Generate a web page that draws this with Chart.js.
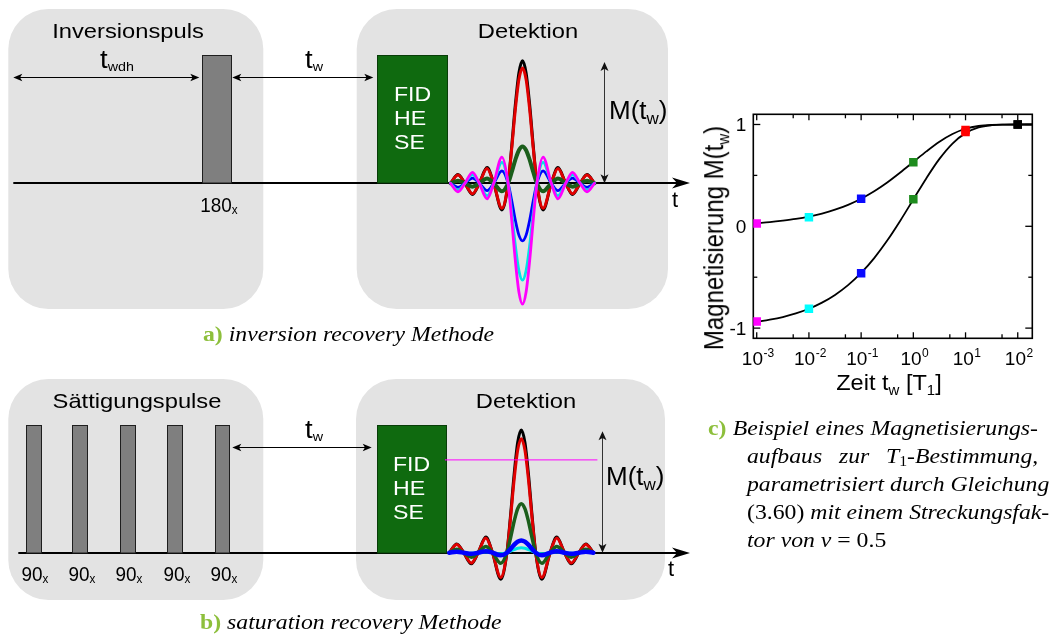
<!DOCTYPE html>
<html><head><meta charset="utf-8">
<script src="https://cdn.jsdelivr.net/npm/chart.js@4.4.0/dist/chart.umd.min.js"></script>
<style>
html,body{margin:0;padding:0;background:#fff;}
body{width:1052px;height:637px;position:relative;overflow:hidden;}
canvas{position:absolute;}
.lbl{position:absolute;white-space:nowrap;line-height:1;color:#000;}
.sans{font-family:"Liberation Sans",Arial,Helvetica,sans-serif;}
.serif{font-family:"Liberation Serif","Times New Roman",serif;}
.sb{position:relative;}
.grn{color:#8dbf3c;font-weight:bold;font-style:normal;}
</style></head>
<body>
<canvas id="chartA" width="700" height="320" style="left:0;top:0"></canvas>
<canvas id="chartB" width="700" height="317" style="left:0;top:320px"></canvas>
<canvas id="chartC" width="362" height="310" style="left:690px;top:90px"></canvas>
<script>
// ================= DATA =================
// --- echo (detected signal) shape, offsets in units of the sinc zero spacing ---
const echoOffsets = [-5,-4.48,-4,-3.47,-3,-2.46,-2,-1.43,-1,-0.75,-0.5,-0.25,0,0.25,0.5,0.75,1,1.43,2,2.46,3,3.47,4,4.48,5];
const echoShape   = [0,0.071,0,-0.091,0,0.128,0,-0.217,0,0.300,0.637,0.900,1,0.900,0.637,0.300,0,-0.217,0,0.128,0,-0.091,0,0.071,0];
// echo series (colour order: black, red, green, blue, cyan, magenta)
const echoNames  = ['t_w = 100','t_w = 10','t_w = 1','t_w = 0.1','t_w = 0.01','t_w = 0.001'];
const irEchoAmps = [1.00, 0.94, 0.30, -0.47, -0.79, -0.985];
const srEchoAmps = [1.00, 0.93, 0.40, 0.10, 0.04];
const srMagentaLevel = 0.757;

// --- pulse sequence timing (time axis in arbitrary units) ---
const irPhases = [[0.83, 26.33], [35.67, 66.8]];
const irPhaseNames = ['Inversionspuls', 'Detektion'];
const irPulses = [[20.17, 23.13]];
const irPulseNames = ['180'];
const irDetect = [37.73, 44.67];
const irIntervals = [[1.33, 19.93], [23.23, 37.33]];

const srPhases = [[0.83, 26.33], [35.6, 66.5]];
const srPhaseNames = ['Sättigungspulse', 'Detektion'];
const srPulses = [[2.6, 4.07], [7.23, 8.73], [12.0, 13.47], [16.73, 18.23], [21.5, 22.93]];
const srPulseNames = ['90', '90', '90', '90', '90'];
const srDetect = [37.67, 44.57];
const srIntervals = [[23.23, 37.17]];

// --- c) magnetisation build-up ---
const curveTimes = [0.001,0.00178,0.00316,0.00562,0.01,0.0178,0.0316,0.0562,0.1,0.178,0.316,0.562,1,1.78,3.16,5.62,10,17.8,31.6,56.2,100,190];
const irCurve = [-0.938,-0.917,-0.891,-0.856,-0.810,-0.750,-0.674,-0.578,-0.458,-0.312,-0.140,0.055,0.264,0.473,0.662,0.813,0.915,0.971,0.993,0.999,1.0,1.0];
const srCurve = [0.031,0.041,0.055,0.072,0.095,0.125,0.163,0.211,0.271,0.344,0.430,0.528,0.632,0.736,0.831,0.907,0.958,0.985,0.996,0.999,1.0,1.0];
const markerTimes = [0.001, 0.01, 0.1, 1, 10, 100];
const irMarkers = [-0.935, -0.81, -0.46, 0.265, 0.925, 1.0];
const srMarkers = [0.028, 0.09, 0.27, 0.63, 0.945, 1.0];
const xMajorTicks = [0.001, 0.01, 0.1, 1, 10, 100];
const xTickExponents = ['-3', '-2', '-1', '0', '1', '2'];
const xMinorTicks = [0.005, 0.05, 0.5, 5, 50];
const yMajorTicks = [-1, 0, 1];
const yTickLabels = ['-1', '0', '1'];
const yMinorTicks = [-0.5, 0.5];

// ================= STYLES =================
const echoColors = ['#000000', '#e00000', '#1b5e1b', '#0000ff', '#00e5e5', '#ff00ff'];
const markerColors = ['#ff00ff', '#00ffff', '#0a0aff', '#1e8c1e', '#ff0000', '#000000'];
const SANS = '"Liberation Sans", Arial, Helvetica, sans-serif';

// ================= HELPERS =================
function rr(ctx, x, y, w, h, r) {
  ctx.beginPath();
  ctx.moveTo(x + r, y);
  ctx.arcTo(x + w, y, x + w, y + h, r);
  ctx.arcTo(x + w, y + h, x, y + h, r);
  ctx.arcTo(x, y + h, x, y, r);
  ctx.arcTo(x, y, x + w, y, r);
  ctx.closePath();
}
function head(ctx, x, y, dx, dy, len, half, notch) {
  const bx = x - dx * len, by = y - dy * len, nx = -dy, ny = dx;
  ctx.beginPath();
  ctx.moveTo(x, y);
  ctx.lineTo(bx + nx * half, by + ny * half);
  ctx.lineTo(x - dx * len * notch, y - dy * len * notch);
  ctx.lineTo(bx - nx * half, by - ny * half);
  ctx.closePath();
  ctx.fill();
}

const diagramPlugin = {
  id: 'diagram',
  beforeDatasetsDraw(chart, args, o) {
    const s = o.spec; if (!s) return;
    const ctx = chart.ctx, X = chart.scales.x, Y = chart.scales.y;
    const px = v => X.getPixelForValue(v), py = v => Y.getPixelForValue(v);
    ctx.save();
    // grey phase panels
    ctx.fillStyle = '#e3e3e3';
    s.phases.forEach(p => {
      const x0 = px(p[0]), x1 = px(p[1]), y0 = py(s.panelTop), y1 = py(s.panelBottom);
      rr(ctx, x0, y0, x1 - x0, y1 - y0, 40); ctx.fill();
    });
    // time axis
    const ya = Math.round(py(0));
    const a0 = px(s.axis[0]), a1 = px(s.axis[1]);
    ctx.strokeStyle = '#000'; ctx.fillStyle = '#000'; ctx.lineWidth = 2;
    ctx.beginPath(); ctx.moveTo(a0, ya); ctx.lineTo(a1 - 12, ya); ctx.stroke();
    head(ctx, a1, ya, 1, 0, 18, 5.5, 0.72);
    // pulses
    ctx.lineWidth = 1; ctx.strokeStyle = '#1e1e1e'; ctx.fillStyle = '#7f7f7f';
    s.pulses.forEach(p => {
      const x0 = Math.round(px(p[0])) + 0.5, x1 = Math.round(px(p[1])) + 0.5, yt = Math.round(py(s.pulseHeight)) + 0.5;
      ctx.fillRect(x0, yt, x1 - x0, ya - yt);
      ctx.strokeRect(x0, yt, x1 - x0, ya - yt);
    });
    // detection block
    {
      const x0 = Math.round(px(s.detect[0])) + 0.5, x1 = Math.round(px(s.detect[1])) + 0.5, yt = Math.round(py(s.pulseHeight)) + 0.5;
      ctx.fillStyle = '#0f6a0f'; ctx.strokeStyle = '#083d08';
      ctx.fillRect(x0, yt, x1 - x0, ya - yt);
      ctx.strokeRect(x0, yt, x1 - x0, ya - yt);
    }
    ctx.restore();
  },
  afterDatasetsDraw(chart, args, o) {
    const s = o.spec; if (!s) return;
    const ctx = chart.ctx, X = chart.scales.x, Y = chart.scales.y;
    const px = v => X.getPixelForValue(v), py = v => Y.getPixelForValue(v);
    ctx.save();
    // interval arrows (t_wdh, t_w)
    ctx.strokeStyle = '#000'; ctx.fillStyle = '#000'; ctx.lineWidth = 1;
    const yl = Math.round(py(s.intervalLevel)) + 0.5;
    s.intervals.forEach(iv => {
      const x0 = px(iv[0]), x1 = px(iv[1]);
      ctx.beginPath(); ctx.moveTo(x0 + 5, yl); ctx.lineTo(x1 - 5, yl); ctx.stroke();
      head(ctx, x0, yl, -1, 0, 9, 3.8, 0.75);
      head(ctx, x1, yl, 1, 0, 9, 3.8, 0.75);
    });
    // M(t_w) arrow
    ctx.strokeStyle = '#333'; ctx.fillStyle = '#111';
    const xm = Math.round(px(s.mArrow.x)) + 0.5, yb = py(0), yt = py(s.mArrow.top);
    ctx.beginPath(); ctx.moveTo(xm, yt + 5); ctx.lineTo(xm, yb - 5); ctx.stroke();
    head(ctx, xm, yt, 0, -1, 9, 4, 0.75);
    head(ctx, xm, yb, 0, 1, 9, 4, 0.75);
    ctx.restore();
  }
};

function echo(center, spacing, amp) {
  return echoOffsets.map((u, i) => ({ x: center + u * spacing, y: amp * echoShape[i] }));
}
function waveDS(data, color, width) {
  return { data, borderColor: color, borderWidth: width, pointRadius: 0, fill: false,
           cubicInterpolationMode: 'monotone', borderJoinStyle: 'round', borderCapStyle: 'round' };
}
function diagramChart(id, spec, datasets) {
  const yMax = spec.baselinePx / spec.unitPx;
  const yMin = -(spec.heightPx - spec.baselinePx) / spec.unitPx;
  return new Chart(document.getElementById(id), {
    type: 'line',
    data: { datasets },
    options: {
      responsive: false, animation: false, devicePixelRatio: 1,
      layout: { padding: 0 },
      plugins: { legend: { display: false }, tooltip: { enabled: false }, diagram: { spec } },
      scales: {
        x: { type: 'linear', display: false, min: 0, max: 70 },
        y: { type: 'linear', display: false, min: yMin, max: yMax }
      }
    },
    plugins: [diagramPlugin]
  });
}

// ================= a) inversion recovery =================
const specA = {
  baselinePx: 183.3, unitPx: 122.6, heightPx: 320,
  phases: irPhases, panelTop: 1.422, panelBottom: -1.025,
  axis: [1.33, 69.0], pulses: irPulses, pulseHeight: 1.047, detect: irDetect,
  intervals: irIntervals, intervalLevel: 0.87, mArrow: { x: 60.4, top: 0.99 }
};
const cA = 52.25, spA = 1.44;
const widthsA = [3, 3, 4, 2.8, 2.8, 2.8];
const dsA = [];
for (let i = irEchoAmps.length - 1; i >= 0; i--) dsA.push(Object.assign(waveDS(echo(cA, spA, irEchoAmps[i]), echoColors[i], widthsA[i]), { label: echoNames[i] }));
const chartA = diagramChart('chartA', specA, dsA);

// ================= b) saturation recovery =================
const specB = {
  baselinePx: 232.7, unitPx: 122.6, heightPx: 317,
  phases: srPhases, panelTop: 1.417, panelBottom: -0.386,
  axis: [1.83, 69.0], pulses: srPulses, pulseHeight: 1.042, detect: srDetect,
  intervals: srIntervals, intervalLevel: 0.865, mArrow: { x: 60.23, top: 0.99 }
};
const cB = 52.13, spB = 1.44;
const widthsB = [3, 3, 3.5, 4.5, 3];
const dsB = [Object.assign(waveDS([{ x: 44.5, y: srMagentaLevel }, { x: 59.7, y: srMagentaLevel }], echoColors[5], 1), { cubicInterpolationMode: 'default', label: echoNames[5] })];
const orderB = [3, 4, 2, 1, 0];
orderB.forEach(i => dsB.push(Object.assign(waveDS(echo(cB, spB, srEchoAmps[i]), echoColors[i], widthsB[i]), { label: echoNames[i] })));
const chartB = diagramChart('chartB', specB, dsB);

// ================= c) magnetisation curves =================
const axesPlugin = {
  id: 'frameAxes',
  beforeDatasetsDraw(chart) {
    const { ctx, chartArea: a, scales: { x, y } } = chart;
    ctx.save();
    ctx.strokeStyle = '#000'; ctx.lineWidth = 1.6;
    ctx.strokeRect(a.left, a.top, a.right - a.left, a.bottom - a.top);
    ctx.lineWidth = 1.3;
    const seg = (x0, y0, x1, y1) => { ctx.beginPath(); ctx.moveTo(x0, y0); ctx.lineTo(x1, y1); ctx.stroke(); };
    xMajorTicks.forEach(v => { const p = x.getPixelForValue(v); seg(p, a.bottom, p, a.bottom - 6); seg(p, a.top, p, a.top + 6); });
    xMinorTicks.forEach(v => { const p = x.getPixelForValue(v); seg(p, a.bottom, p, a.bottom - 4); seg(p, a.top, p, a.top + 4); });
    yMajorTicks.forEach(v => { const p = y.getPixelForValue(v); seg(a.left, p, a.left + 7, p); seg(a.right, p, a.right - 7, p); });
    yMinorTicks.forEach(v => { const p = y.getPixelForValue(v); seg(a.left, p, a.left + 4, p); seg(a.right, p, a.right - 4, p); });
    // tick labels
    ctx.fillStyle = '#000'; ctx.textBaseline = 'alphabetic';
    const F = '19px ' + SANS, Fs = '12px ' + SANS;
    xMajorTicks.forEach((v, i) => {
      const p = x.getPixelForValue(v);
      ctx.font = F; const wb = ctx.measureText('10').width;
      ctx.font = Fs; const ws = ctx.measureText(xTickExponents[i]).width;
      const st = p - (wb + ws) / 2 + 1;
      ctx.textAlign = 'left';
      ctx.font = F; ctx.fillText('10', st, a.bottom + 27);
      ctx.font = Fs; ctx.fillText(xTickExponents[i], st + wb + 0.5, a.bottom + 19);
    });
    ctx.font = F; ctx.textAlign = 'right';
    yMajorTicks.forEach((v, i) => { ctx.fillText(yTickLabels[i], a.left - 7, y.getPixelForValue(v) + 7); });
    ctx.restore();
  }
};
const pts = (xs, ys) => xs.map((t, i) => ({ x: t, y: ys[i] }));
new Chart(document.getElementById('chartC'), {
  type: 'line',
  data: { datasets: [
    { label: 'IR markers', data: pts(markerTimes, irMarkers), showLine: false, pointStyle: 'rect', pointRadius: 6,
      pointBackgroundColor: markerColors, pointBorderColor: markerColors, pointBorderWidth: 0 },
    { label: 'SR markers', data: pts(markerTimes, srMarkers), showLine: false, pointStyle: 'rect', pointRadius: 6,
      pointBackgroundColor: markerColors, pointBorderColor: markerColors, pointBorderWidth: 0 },
    { label: 'inversion recovery', data: pts(curveTimes, irCurve), borderColor: '#000', borderWidth: 1.8, pointRadius: 0, cubicInterpolationMode: 'monotone', fill: false },
    { label: 'saturation recovery', data: pts(curveTimes, srCurve), borderColor: '#000', borderWidth: 1.8, pointRadius: 0, cubicInterpolationMode: 'monotone', fill: false }
  ] },
  options: {
    responsive: false, animation: false, devicePixelRatio: 1,
    layout: { padding: { left: 63.3, right: 19.7, top: 24.3, bottom: 61.7 } },
    plugins: { legend: { display: false }, tooltip: { enabled: false } },
    scales: {
      x: { type: 'logarithmic', display: false, min: 0.00086, max: 190 },
      y: { type: 'linear', display: false, min: -1.1, max: 1.1 }
    }
  },
  plugins: [axesPlugin]
});

// ================= TEXT LABELS =================
function label(html, x, base, o = {}) {
  const size = o.size || 21, serif = !!o.serif, align = o.align || 'left', sx = o.sx || 1;
  const d = document.createElement('div');
  d.className = 'lbl ' + (serif ? 'serif' : 'sans');
  d.innerHTML = html;
  const asc = serif ? 0.8375 : 0.8465;
  d.style.fontSize = size + 'px';
  d.style.top = (base - asc * size) + 'px';
  d.style.left = x + 'px';
  if (o.color) d.style.color = o.color;
  if (o.width) { d.style.width = o.width + 'px'; d.style.textAlign = 'justify'; d.style.textAlignLast = 'justify'; }
  const tx = align === 'center' ? '-50%' : align === 'right' ? '-100%' : '0px';
  d.style.transformOrigin = align === 'center' ? 'center' : align;
  d.style.transform = `translateX(${tx}) scaleX(${sx})`;
  document.body.appendChild(d);
  return d;
}
const sub = (t, s, dy) => `<span class="sb" style="font-size:${s}px;top:${dy}px">${t}</span>`;
const absSub = (t, s, dy) => `<span style="position:absolute;left:100%;font-size:${s}px;top:${dy}px;line-height:1">${t}</span>`;

function diagramLabels(chart, canvasTop, phaseNames, pulses, pulseNames, detect, spec, txt) {
  const X = chart.scales.x, Y = chart.scales.y;
  const base0 = canvasTop + Y.getPixelForValue(0);
  const topBox = canvasTop + Y.getPixelForValue(spec.pulseHeight);
  // phase titles
  phaseNames.forEach((n, i) => label(n, (X.getPixelForValue(spec.phases[i][0]) + X.getPixelForValue(spec.phases[i][1])) / 2 + txt.titleDx[i], txt.titleBase, { size: 21, align: 'center', sx: 1.13 }));
  // pulse labels
  pulses.forEach((p, i) => {
    const c = (X.getPixelForValue(p[0]) + X.getPixelForValue(p[1])) / 2 - 1;
    label(pulseNames[i] + absSub('x', 13, 9), c, base0 + 28, { size: 21, align: 'center', sx: 0.9 });
  });
  // FID / HE / SE
  const bl = X.getPixelForValue(detect[0]) + 16.5;
  ['FID', 'HE', 'SE'].forEach((t, i) => label(t, bl, topBox + 45.7 + i * 24, { size: 21, sx: 1.1, color: '#fff' }));
  // M(t_w)
  label('M(t' + sub('w', 17, 5) + ')', txt.mx, txt.mBase, { size: 26 });
  // t axis label
  label('t', txt.tx, base0 + 24, { size: 22 });
}

diagramLabels(chartA, 0, irPhaseNames, irPulses, irPulseNames, irDetect, specA,
  { titleDx: [-8, 15.3], titleBase: 37.7, mx: 609, mBase: 119, tx: 672 });
label('t' + sub('wdh', 13, 3), 100, 68.3, { size: 25, sx: 1.1 });
label('t' + sub('w', 13, 3), 305, 68.3, { size: 25, sx: 1.1 });
label('<span class="grn">a)</span> <i>inversion recovery Methode</i>', 202.7, 341.7, { serif: true, size: 21, sx: 1.13 });

diagramLabels(chartB, 320, srPhaseNames, srPulses, srPulseNames, srDetect, specB,
  { titleDx: [1, 15.8], titleBase: 408, mx: 606, mBase: 485, tx: 668 });
label('t' + sub('w', 13, 3), 305, 438.3, { size: 25, sx: 1.1 });
label('<span class="grn">b)</span> <i>saturation recovery Methode</i>', 200, 629.5, { serif: true, size: 21, sx: 1.13 });

// chart c axis titles
label('Zeit t' + sub('w', 14, 5) + ' [T' + sub('1', 14, 5) + ']', 889, 391, { size: 22, align: 'center', sx: 1.07 });
{
  const d = document.createElement('div');
  d.className = 'lbl sans';
  d.style.fontSize = '24px';
  d.innerHTML = 'Magnetisierung M(t' + sub('w', 15, 5) + ')';
  d.style.left = '714px'; d.style.top = '238px';
  d.style.transformOrigin = 'center';
  d.style.transform = 'translate(-50%,-50%) rotate(-90deg) scaleY(1.13)';
  document.body.appendChild(d);
}

// caption c
const capW1 = (1038 - 708) / 1.13, capW = (1038 - 746.7) / 1.13;
label('<span class="grn">c)</span> <i>Beispiel eines Magnetisierungs-</i>', 708, 436, { serif: true, size: 21, sx: 1.13, width: capW1 });
label('<i>aufbaus zur T</i>' + sub('1', 14, 3) + '<i>-Bestimmung,</i>', 746.7, 464, { serif: true, size: 21, sx: 1.13, width: capW });
label('<i>parametrisiert durch Gleichung</i>', 746.7, 492, { serif: true, size: 21, sx: 1.13, width: capW });
label('(3.60) <i>mit einem Streckungsfak-</i>', 746.7, 520, { serif: true, size: 21, sx: 1.13, width: capW });
label('<i>tor von ν</i> = 0.5', 746.7, 548, { serif: true, size: 21, sx: 1.13 });
</script>
</body></html>
